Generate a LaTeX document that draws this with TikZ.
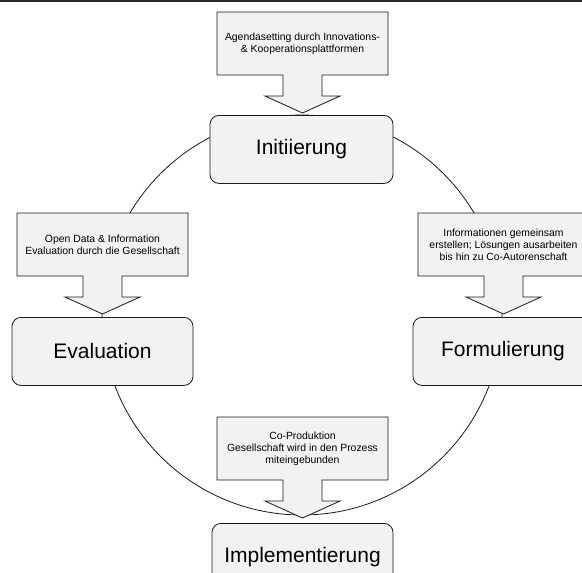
\documentclass[tikz,border=0pt]{standalone}
\usepackage{fontspec}
\setmainfont{Liberation Sans}
\definecolor{boxfill}{HTML}{F2F2F2}
\definecolor{edge}{HTML}{1A1A1A}
\tikzset{
 stage/.style={draw=edge, fill=boxfill, line width=0.8pt, rounded corners=9pt, minimum height=68pt, font=\fontsize{21}{25}\selectfont, inner sep=0pt, anchor=north},
 calloutshape/.style={draw=edge, fill=boxfill, line width=0.8pt, line join=miter},
 callouttext/.style={align=center, font=\fontsize{10.4}{12}\selectfont, inner sep=0pt},
 cycleline/.style={draw=edge, line width=0.8pt}
}
\newcommand\mycallout[4]{%
 \draw[calloutshape] (#2-85.5,#3) -- (#2+85.5,#3) -- (#2+85.5,#3+63) -- (#2+19.5,#3+63) -- (#2+19.5,#3+84) -- (#2+37.5,#3+84) -- (#2,#3+101) -- (#2-37.5,#3+84) -- (#2-19.5,#3+84) -- (#2-19.5,#3+63) -- (#2-85.5,#3+63) -- cycle;
 \node[callouttext] (#1) at (#2,#3+31.5) {#4};
 \coordinate (#1tip) at (#2,#3+101);
}
\begin{document}
\begin{tikzpicture}[x=1pt,y=-1pt]
\clip (0,0) rectangle (582,573);
\fill[white] (0,0) rectangle (582,573);
\coordinate (cc) at (302,315);
\draw[cycleline] (cc) circle [radius=200pt];
\mycallout{cinit}{302.5}{12}{Agendasetting durch Innovations-\\\& Kooperationsplattformen}
\mycallout{ceval}{102.5}{213}{Open Data \& Information\\Evaluation durch die Gesellschaft}
\mycallout{cform}{503.5}{213}{Informationen gemeinsam\\erstellen; Lösungen ausarbeiten\\bis hin zu Co-Autorenschaft}
\mycallout{cimpl}{302.5}{417}{Co-Produktion\\Gesellschaft wird in den Prozess\\miteingebunden}
\node[stage, minimum width=183pt] (init) at (301.5,115) {Initiierung};
\node[stage, minimum width=181pt] (eval) at (102.5,317) {Evaluation};
\node[stage, minimum width=180pt] (form) at (503,317) {Formulierung};
\node[stage, minimum width=181pt] (impl) at (302.5,523) {Implementierung};
\fill[black!85] (0,0) rectangle (582,2);
\end{tikzpicture}
\end{document}
